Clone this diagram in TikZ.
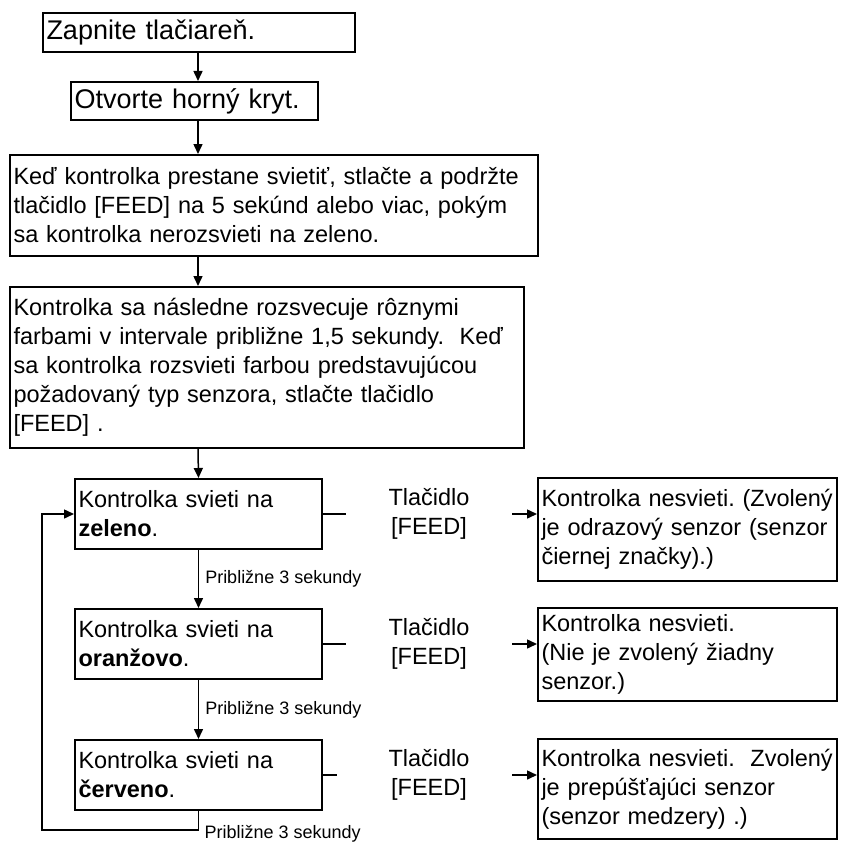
\documentclass[tikz,border=0pt]{standalone}
\usepackage{fontspec}
\setmainfont{Liberation Sans}
\frenchspacing
\usetikzlibrary{arrows.meta,positioning,calc}
\begin{document}
\begin{tikzpicture}[x=1pt,y=-1pt,font=\fontsize{23.5}{29}\selectfont,
  box/.style={draw,line width=2pt,anchor=north west,align=left,inner xsep=3.5pt,inner ysep=5pt},
  head/.style={box,font=\fontsize{27}{31}\selectfont},
  lamp/.style={box,text width=240pt,minimum height=70pt},
  result/.style={box,text width=292pt},
  arr/.style={line width=1.5pt,-{Triangle[length=10pt,width=9pt]}},
  link/.style={line width=1.5pt},
  btn/.style={align=center,minimum width=166pt,inner sep=0pt},
  lbl/.style={font=\fontsize{18}{21}\selectfont,inner sep=2pt}]
\useasboundingbox (0,0) rectangle (843,843);
\coordinate (spine) at (198,0);
\coordinate (btncol) at (429,0);
\coordinate (back) at (42,830);

\node[head,text width=305pt,minimum height=39pt] (start) at (42,12) {Zapnite tlačiareň.};
\node[head,text width=240pt,minimum height=38pt] (cover) at (70,81) {Otvorte horný kryt.};
\node[box,text width=521pt,minimum height=101pt] (hold) at (9,154)
  {Keď kontrolka prestane svietiť, stlačte a podržte\\tlačidlo [FEED] na 5 sekúnd alebo viac, pokým\\sa kontrolka nerozsvieti na zeleno.};
\node[box,text width=507pt,minimum height=161pt] (cycle) at (9,286)
  {Kontrolka sa následne rozsvecuje rôznymi\\farbami v intervale približne 1,5 sekundy.\ \ Keď\\sa kontrolka rozsvieti farbou predstavujúcou\\požadovaný typ senzora, stlačte tlačidlo\\{[FEED]} .};

\node[lamp] (green) at (74,478) {Kontrolka svieti na\\\textbf{zeleno}.};
\node[lamp] (orange) at (74,608) {Kontrolka svieti na\\\textbf{oranžovo}.};
\node[lamp] (red) at (74,739) {Kontrolka svieti na\\\textbf{červeno}.};

\node[btn] (btn1) at (green -| btncol) {Tlačidlo\\{[FEED]}};
\node[btn] (btn2) at (orange -| btncol) {Tlačidlo\\{[FEED]}};
\node[btn] (btn3) at (red -| btncol) {Tlačidlo\\{[FEED]}};

\node[result,minimum height=103pt] (res1) at (537,477)
  {Kontrolka nesvieti. (Zvolený\\je odrazový senzor (senzor\\čiernej značky).)};
\node[result,minimum height=93pt] (res2) at (537,607)
  {Kontrolka nesvieti.\\(Nie je zvolený žiadny\\senzor.)};
\node[result,minimum height=100pt] (res3) at (537,738)
  {Kontrolka nesvieti.\ \ Zvolený\\je prepúšťajúci senzor\\(senzor medzery) .)};

\draw[arr] (start.south -| spine) -- (cover.north -| spine);
\draw[arr] (cover.south -| spine) -- (hold.north -| spine);
\draw[arr] (hold.south -| spine) -- (cycle.north -| spine);
\draw[arr] (cycle.south -| spine) -- (green.north);
\draw[arr] (green.south) -- (orange.north) node[lbl,midway,right,xshift=4pt] {Približne 3 sekundy};
\draw[arr] (orange.south) -- (red.north) node[lbl,midway,right,xshift=4pt] {Približne 3 sekundy};
\draw[arr] (red.south) |- (back) |- (green.west);
\node[lbl,anchor=west] (again) at ([xshift=4pt,yshift=-4pt]red.south |- back) {Približne 3 sekundy};

\draw[link] (green.east) -- (btn1.west);
\draw[link] (orange.east) -- (btn2.west);
\draw[link,shorten >=9pt] (red.east) -- (btn3.west);
\draw[arr] (btn1.east) -- (btn1.east -| res1.west);
\draw[arr] (btn2.east) -- (btn2.east -| res2.west);
\draw[arr] (btn3.east) -- (btn3.east -| res3.west);
\end{tikzpicture}
\end{document}
